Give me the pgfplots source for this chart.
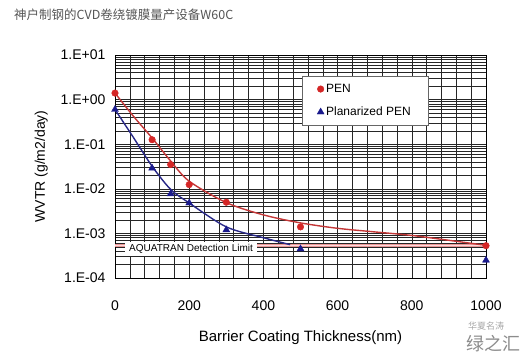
\documentclass[border=0pt]{standalone}
\usepackage{pgfplots}
\pgfplotsset{compat=1.18}
\usepackage{fontspec}
\setmainfont{Liberation Sans}
\newfontfamily\cjk{Noto Sans CJK SC}
\definecolor{penred}{RGB}{212,38,38}
\definecolor{penblue}{RGB}{25,25,140}
\definecolor{curvered}{RGB}{195,55,55}
\definecolor{curveblue}{RGB}{40,40,135}
\definecolor{limitpink}{RGB}{236,150,150}
\definecolor{limitpale}{RGB}{250,220,220}
\definecolor{titlegray}{RGB}{85,85,85}
\begin{document}
\begin{tikzpicture}
\useasboundingbox (0pt,0pt) rectangle (524pt,356pt);
\node[anchor=west, font=\cjk\fontsize{12.5}{14}\selectfont, text=titlegray, inner sep=0pt] at (14pt,341pt) {神户制钢的CVD卷绕镀膜量产设备W60C};
\begin{axis}[
  at={(115pt,78pt)}, anchor=south west,
  scale only axis, width=371pt, height=223pt,
  xmin=0, xmax=1000, ymode=log, ymin=1e-4, ymax=10,
  xtick={0,200,400,600,800,1000},
  minor x tick num=4,
  ytick={1e-4,1e-3,1e-2,1e-1,1,10},
  yticklabels={1.E-04,1.E-03,1.E-02,1.E-01,1.E+00,1.E+01},
  grid=both,
  major grid style={black!85, line width=0.5pt},
  minor grid style={black!85, line width=0.5pt},
  axis line style={black, line width=0.9pt},
  tick style={draw=none},
  /pgf/number format/assume math mode=true,
  /pgf/number format/set thousands separator={},
  tick label style={font=\fontsize{14}{16}\selectfont},
  xticklabel style={yshift=-19pt},
  yticklabel style={xshift=-6pt},
  xlabel={Barrier Coating Thickness(nm)},
  ylabel={WVTR (g/m2/day)},
  label style={font=\fontsize{15}{17}\selectfont},
  xlabel style={yshift=-13pt},
  ylabel style={font=\fontsize{14}{16}\selectfont, yshift=6pt},
  legend style={at={(0.504,0.906)}, anchor=north west, draw=black!60, fill=white,
    font=\fontsize{12}{14}\selectfont, inner xsep=15pt, inner ysep=6pt, row sep=9pt,
    cells={anchor=west}},
  legend image code/.code={\draw[#1] plot coordinates {(0pt,0pt)};},
]
% detection limit
\addplot[draw=limitpink, line width=0.8pt, double=limitpale, double distance=1.6pt, forget plot] coordinates {(0,5.4e-4) (1000,5.4e-4)};
% fitted curves
\addplot[curvered, line width=1.4pt, smooth, forget plot] coordinates {
(0,1.4) (50,0.42) (100,0.138) (150,0.042) (200,0.0148) (300,0.0049) (400,0.0026) (500,0.00172) (600,0.0013) (700,0.00108) (800,0.0009) (900,0.0007) (1000,0.00054)};
\addplot[curveblue, line width=1.4pt, smooth, forget plot] coordinates {
(0,0.6) (50,0.14) (100,0.032) (150,0.0097) (200,0.0048) (300,0.0014) (400,0.0008) (472,0.00056)};
% data
\addplot[only marks, mark=*, mark size=3.3pt, color=penred] coordinates {
(0,1.4) (100,0.126) (150,0.035) (200,0.0124) (300,0.005) (500,0.0014) (1000,0.00053)};
\addlegendentry{PEN}
\addplot[only marks, mark=triangle*, mark size=4pt, color=penblue] coordinates {
(0,0.6) (100,0.029) (150,0.0077) (200,0.0048) (300,0.0012) (500,0.00045) (1000,0.00025)};
\addlegendentry{Planarized PEN}
\node[fill=white, inner xsep=4pt, inner ysep=2.5pt, anchor=west, font=\fontsize{10}{11}\selectfont] at (axis cs:27,4.5e-4) {AQUATRAN Detection Limit};
\end{axis}
\node[font=\cjk\fontsize{9}{10}\selectfont, text=black!35] at (486pt,30pt) {华夏名涛};
\node[font=\cjk\fontsize{18}{20}\selectfont, text=black!45] at (493pt,12pt) {绿之汇};
\end{tikzpicture}
\end{document}
